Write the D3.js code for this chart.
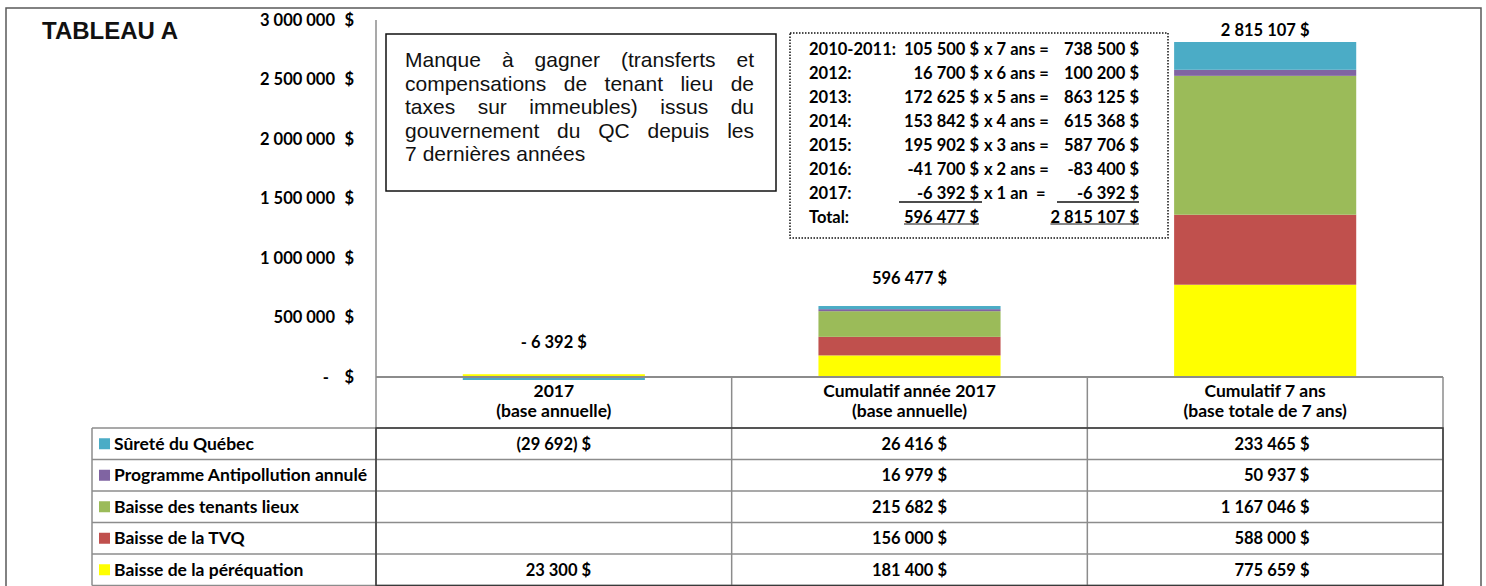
<!DOCTYPE html>
<html>
<head>
<meta charset="utf-8">
<script src="https://cdn.jsdelivr.net/npm/d3@7"></script>
<style>
  body { margin: 0; background: #fff; }
  svg { display: block; }
  .cal { font-family: Lato, "Open Sans", sans-serif; font-weight: 700; font-size: 16.5px; fill: #000; }
  .cal.txt { font-size: 17.5px; }
  .title { font-family: "Liberation Sans", Arial, sans-serif; font-weight: 700; font-size: 24px; fill: #111; }
  .note { font-family: "Liberation Sans", Arial, sans-serif; font-size: 21px; fill: #111; }
</style>
</head>
<body>
<svg id="chart" width="1486" height="586"></svg>
<script>
// categories (columns of the data table)
const categories = ["2017", "Cumulatif année 2017", "Cumulatif 7 ans"];
const categorySub = ["(base annuelle)", "(base annuelle)", "(base totale de 7 ans)"];

// series, stacked bottom -> top
const seriesNames = ["Baisse de la péréquation", "Baisse de la TVQ", "Baisse des tenants lieux",
                     "Programme Antipollution annulé", "Sûreté du Québec"];
const seriesColors = ["#FFFF00", "#C0504D", "#9BBB59", "#8064A2", "#4BACC6"];
const perequation  = [23300, 181400, 775659];
const tvq          = [null, 156000, 588000];
const tenantsLieux = [null, 215682, 1167046];
const antipollution = [null, 16979, 50937];
const surete       = [-29692, 26416, 233465];

const yTicks = [0, 500000, 1000000, 1500000, 2000000, 2500000, 3000000];

// calculation box
const calcYears  = ["2010-2011:", "2012:", "2013:", "2014:", "2015:", "2016:", "2017:"];
const calcAmounts = [105500, 16700, 172625, 153842, 195902, -41700, -6392];
const calcCounts = [7, 6, 5, 4, 3, 2, 1];

const noteLines = [
  ["Manque", "à", "gagner", "(transferts", "et"],
  ["compensations", "de", "tenant", "lieu", "de"],
  ["taxes", "sur", "immeubles)", "issus", "du"],
  ["gouvernement", "du", "QC", "depuis", "les"],
  ["7", "dernières", "années"]
];

const seriesValues = [perequation, tvq, tenantsLieux, antipollution, surete];

// ------------------------------------------------------------------
const fr = d3.formatLocale({ decimal: ",", thousands: " ", grouping: [3], currency: ["", " $"], minus: "-" });
const fmt = fr.format(",d");
const money = v => `${fmt(v)} $`;
const cellMoney = v => v == null ? "" : (v < 0 ? `(${fmt(-v)}) $` : `${fmt(v)} $`);
const totalMoney = v => v < 0 ? `- ${fmt(-v)} $` : `${fmt(v)} $`;

const svg = d3.select("#chart");

const plotLeft = 376, plotRight = 1443;
const headTop = 377, headBottom = 428, rowH = 31.5;
const legendLeft = 92;

const x = d3.scaleBand()
  .domain(categories)
  .range([plotLeft, plotRight])
  .paddingInner(0.488)
  .paddingOuter(0.244);

const y = d3.scaleLinear()
  .domain([0, 3000000])
  .range([377, 20]);

// table of values by category
const table = categories.map((c, i) => {
  const row = { cat: c };
  seriesNames.forEach((s, k) => row[s] = seriesValues[k][i] == null ? 0 : seriesValues[k][i]);
  return row;
});
const totals = categories.map((c, i) => d3.sum(seriesValues, s => s[i] || 0));

const stacked = d3.stack().keys(seriesNames).offset(d3.stackOffsetDiverging)(table);

// outer frame
svg.append("path")
  .attr("d", "M6,586V8H1481V586")
  .attr("fill", "none")
  .attr("stroke", "#595959")
  .attr("stroke-width", 1.5);

svg.append("text")
  .attr("class", "title")
  .attr("x", 42)
  .attr("y", 39)
  .text("TABLEAU A");

// y axis labels
const yAxis = svg.append("g");
yTicks.forEach(t => {
  yAxis.append("text")
    .attr("class", "cal")
    .attr("x", t === 0 ? 329 : 335)
    .attr("y", y(t))
    .attr("dy", "0.35em")
    .attr("text-anchor", "end")
    .text(t === 0 ? "-" : fmt(t));
  yAxis.append("text")
    .attr("class", "cal")
    .attr("x", 354)
    .attr("y", y(t))
    .attr("dy", "0.35em")
    .attr("text-anchor", "end")
    .text("$");
});

// bars
svg.append("clipPath").attr("id", "plotclip")
  .append("rect").attr("x", plotLeft).attr("y", 0).attr("width", plotRight - plotLeft).attr("height", 380);

const bars = svg.append("g").attr("clip-path", "url(#plotclip)");
stacked.forEach((layer, k) => {
  bars.selectAll(null)
    .data(layer)
    .join("rect")
      .attr("x", d => x(d.data.cat))
      .attr("width", x.bandwidth())
      .attr("y", d => y(Math.max(d[0], d[1])))
      .attr("height", d => Math.abs(y(d[0]) - y(d[1])))
      .attr("fill", seriesColors[k]);
});

// y axis line
svg.append("line")
  .attr("x1", plotLeft).attr("x2", plotLeft)
  .attr("y1", y(3000000)).attr("y2", headTop)
  .attr("stroke", "#8c8c8c")
  .attr("stroke-width", 1.5);

// total labels above bars
const labelOffsets = [35, 28, 12];
svg.selectAll("text.total")
  .data(totals)
  .join("text")
    .attr("class", "cal total")
    .attr("x", (d, i) => x(categories[i]) + x.bandwidth() / 2)
    .attr("y", (d, i) => y(Math.max(d, 0)) - labelOffsets[i])
    .attr("dy", "0.35em")
    .attr("text-anchor", "middle")
    .text(d => totalMoney(d));

// note box
const note = svg.append("g");
note.append("rect")
  .attr("x", 386).attr("y", 34).attr("width", 390).attr("height", 157)
  .attr("fill", "#fff").attr("stroke", "#111").attr("stroke-width", 1.5);

noteLines.forEach((words, li) => {
  const yy = 67 + li * 23.5;
  const nodes = words.map(w => note.append("text").attr("class", "note").attr("y", yy).text(w));
  const widths = nodes.map(n => n.node().getComputedTextLength());
  const last = li === noteLines.length - 1;
  const gap = last ? 6 : (754 - 405 - d3.sum(widths)) / (words.length - 1);
  let xx = 405;
  nodes.forEach((n, i) => { n.attr("x", xx); xx += widths[i] + gap; });
});

// calculation box
const calc = svg.append("g");
calc.append("rect")
  .attr("x", 790).attr("y", 33).attr("width", 378).attr("height", 205)
  .attr("fill", "#fff").attr("stroke", "#111").attr("stroke-width", 1.5)
  .attr("stroke-dasharray", "1.5,1.5");

const calcRowY = i => 49 + i * 24;
calcYears.forEach((yr, i) => {
  const cy = calcRowY(i);
  calc.append("text").attr("class", "cal").attr("x", 809).attr("y", cy).attr("dy", "0.35em").text(yr);
  calc.append("text").attr("class", "cal").attr("x", 979).attr("y", cy).attr("dy", "0.35em")
    .attr("text-anchor", "end").text(money(calcAmounts[i]));
  calc.append("text").attr("class", "cal").attr("x", 984).attr("y", cy).attr("dy", "0.35em")
    .attr("xml:space", "preserve")
    .text(calcCounts[i] > 1 ? `x ${calcCounts[i]} ans =` : `x ${calcCounts[i]} an  =`);
  calc.append("text").attr("class", "cal").attr("x", 1139).attr("y", cy).attr("dy", "0.35em")
    .attr("text-anchor", "end").text(money(calcAmounts[i] * calcCounts[i]));
});
// sum lines under last year
const sumLineY = calcRowY(calcYears.length - 1) + 9;
[[899, 982], [1057, 1139]].forEach(([a, b]) => {
  calc.append("line").attr("x1", a).attr("x2", b).attr("y1", sumLineY).attr("y2", sumLineY)
    .attr("stroke", "#111").attr("stroke-width", 1.5);
});
// total row
const totY = calcRowY(calcYears.length);
calc.append("text").attr("class", "cal").attr("x", 809).attr("y", totY).attr("dy", "0.35em").text("Total:");
const totalA = calc.append("text").attr("class", "cal").attr("x", 979).attr("y", totY).attr("dy", "0.35em")
  .attr("text-anchor", "end").text(money(d3.sum(calcAmounts)));
const totalB = calc.append("text").attr("class", "cal").attr("x", 1139).attr("y", totY).attr("dy", "0.35em")
  .attr("text-anchor", "end").text(money(d3.sum(calcAmounts, (a, i) => a * calcCounts[i])));
[totalA, totalB].forEach(t => {
  const bb = t.node().getBBox();
  calc.append("line").attr("x1", bb.x).attr("x2", bb.x + bb.width)
    .attr("y1", totY + 7).attr("y2", totY + 7).attr("stroke", "#111").attr("stroke-width", 1.2);
});

// data table
const grid = svg.append("g");
const gridColor = "#8c8c8c";
const rowsTop = headBottom, rowsBottom = headBottom + rowH * seriesNames.length;
const colEdges = categories.map((c, i) => plotLeft + i * x.step()).concat([plotRight]);

// header
grid.append("line").attr("x1", plotLeft).attr("x2", plotRight).attr("y1", headTop).attr("y2", headTop)
  .attr("stroke", gridColor).attr("stroke-width", 2);
colEdges.forEach(cx => {
  grid.append("line").attr("x1", cx).attr("x2", cx).attr("y1", headTop).attr("y2", rowsBottom)
    .attr("stroke", gridColor).attr("stroke-width", 1.5);
});
// legend column
grid.append("line").attr("x1", legendLeft).attr("x2", legendLeft).attr("y1", rowsTop).attr("y2", rowsBottom)
  .attr("stroke", gridColor).attr("stroke-width", 1.5);
d3.range(seriesNames.length + 1).forEach(r => {
  const ly = rowsTop + r * rowH;
  grid.append("line").attr("x1", legendLeft).attr("x2", plotRight).attr("y1", ly).attr("y2", ly)
    .attr("stroke", gridColor).attr("stroke-width", 1.5);
});
grid.append("rect")
  .attr("x", plotLeft).attr("y", rowsTop).attr("width", plotRight - plotLeft).attr("height", rowsBottom - rowsTop)
  .attr("fill", "none").attr("stroke", "#3a3a3a").attr("stroke-width", 1.5);

// header text
categories.forEach((c, i) => {
  const cx = x(c) + x.bandwidth() / 2;
  svg.append("text").attr("class", "cal txt").attr("x", cx).attr("y", 391).attr("dy", "0.35em")
    .attr("text-anchor", "middle").text(c);
  svg.append("text").attr("class", "cal txt").attr("x", cx).attr("y", 411).attr("dy", "0.35em")
    .attr("text-anchor", "middle").text(categorySub[i]);
});

// rows, top = last series
const tableOrder = d3.range(seriesNames.length).reverse();
tableOrder.forEach((k, r) => {
  const cy = rowsTop + r * rowH + rowH / 2;
  svg.append("rect").attr("x", 99).attr("y", cy - 5.5).attr("width", 11).attr("height", 11)
    .attr("fill", seriesColors[k]);
  svg.append("text").attr("class", "cal txt").attr("x", 114).attr("y", cy).attr("dy", "0.35em")
    .text(seriesNames[k]);
});

// values, right aligned on the widest entry of each column
categories.forEach((c, i) => {
  const cx = x(c) + x.bandwidth() / 2;
  const texts = tableOrder.map((k, r) => svg.append("text").attr("class", "cal")
    .attr("y", rowsTop + r * rowH + rowH / 2).attr("dy", "0.35em")
    .attr("text-anchor", "end").text(cellMoney(seriesValues[k][i])));
  const maxW = d3.max(texts, t => t.node().getComputedTextLength());
  texts.forEach(t => t.attr("x", cx + maxW / 2));
});
</script>
</body>
</html>
